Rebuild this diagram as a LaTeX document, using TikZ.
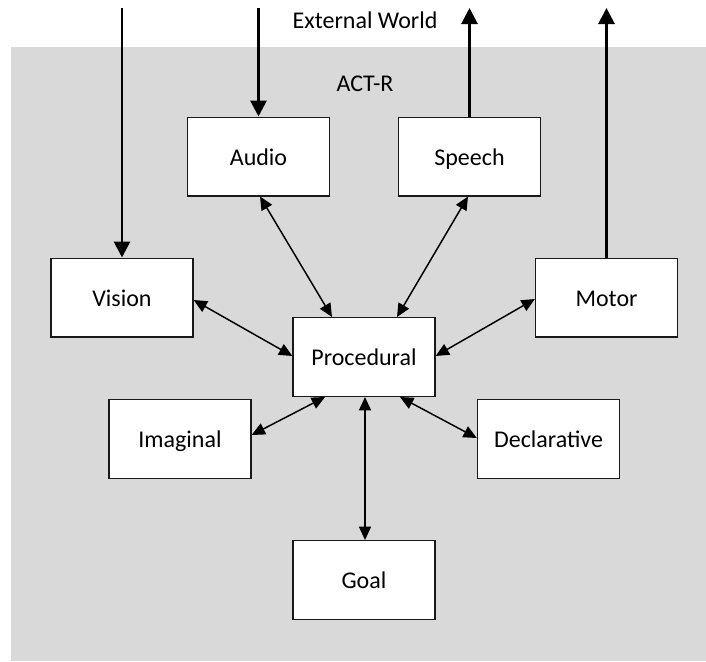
\documentclass[tikz,border=0pt]{standalone}
\usepackage{fontspec}
\setmainfont{Carlito}
\usetikzlibrary{arrows.meta,calc}

\definecolor{panelgray}{HTML}{D9D9D9}

\tikzset{
  module/.style={draw=black!90, line width=1pt, fill=white, inner sep=0pt,
    minimum width=106.5pt, minimum height=59pt, text height=13pt, text depth=0.2pt,
    font=\fontsize{18}{21}\selectfont},
  link/.style={line width=1.1pt, {Triangle[length=10pt,width=9pt]}-{Triangle[length=10pt,width=9pt]}},
  iolink/.style={line width=2.2pt, -{Triangle[length=12pt,width=12pt]}},
  caption/.style={font=\fontsize{18}{21}\selectfont, anchor=base, inner sep=0pt}
}

\begin{document}
\begin{tikzpicture}[x=0.75pt, y=-0.75pt]
  \useasboundingbox (0,0) rectangle (706,661);
  % ACT-R panel
  \fill[panelgray] (11,47) rectangle (706,661);

  \node[caption] (world) at (365,28) {External World};
  \node[caption] (actr)  at (365,91) {ACT-R};

  % modules
  \node[module] (vision) at (122,297.5)   {Vision};
  \node[module] (audio)  at (258.5,156.5) {Audio};
  \node[module] (speech) at (469.5,156.5) {Speech};
  \node[module] (motor)  at (606.5,297.5) {Motor};
  \node[module] (proc)   at (364,357)     {Procedural};
  \node[module] (imag)   at (180,439)     {Imaginal};
  \node[module] (decl)   at (548.5,439)   {Declarative};
  \node[module] (goal)   at (364,580)     {Goal};

  % links to the external world
  \coordinate (vin)  at (122,8);
  \coordinate (ain)  at (258.5,8);
  \coordinate (sout) at (469.5,8);
  \coordinate (mout) at (606.5,8);
  \draw[iolink] (vin) -- (vision.north);
  \draw[iolink] (ain) -- (audio.north);
  \draw[iolink] (speech.north) -- (sout);
  \draw[iolink] (motor.north) -- (mout);

  % buffers between the modules and the procedural system
  \draw[link] ($(audio.south)+(1.5,0)$) -- ($(proc.north)+(-32,0)$);
  \draw[link] ($(speech.south)+(-1.5,0)$) -- ($(proc.north)+(33,0)$);
  \draw[link] ($(vision.east)+(0,2.5)$) -- ($(proc.west)+(0,-1)$);
  \draw[link] ($(motor.west)+(0,1.5)$) -- ($(proc.east)+(0,-1)$);
  \draw[link] ($(imag.east)+(0,-4)$) -- ($(proc.south)+(-39,0)$);
  \draw[link] ($(decl.west)+(0,-1)$) -- ($(proc.south)+(36,0)$);
  \draw[link] ($(proc.south)+(1,0)$) -- ($(goal.north)+(1,0)$);
\end{tikzpicture}
\end{document}
